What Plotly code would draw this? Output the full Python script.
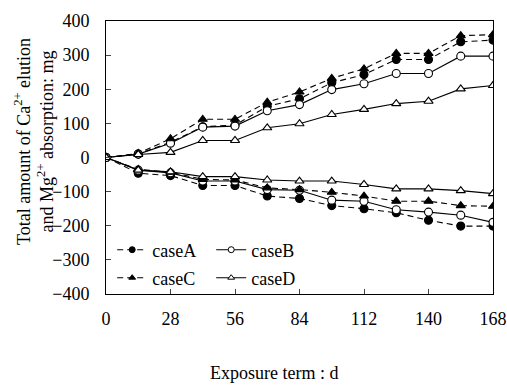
import plotly.graph_objects as go

days = [0, 14, 28, 42, 56, 70, 84, 98, 112, 126, 140, 154, 168]

# Ca2+ elution (positive)
ca_A = [0, 10, 45, 90, 95, 150, 172, 219, 243, 287, 287, 339, 344]
ca_B = [0, 10, 42, 89, 92, 137, 155, 199, 216, 246, 246, 297, 297]
ca_C = [0, 12, 55, 112, 112, 162, 192, 232, 260, 305, 305, 357, 360]
ca_D = [0, 9, 15, 50, 50, 87, 99, 126, 141, 158, 165, 201, 211]

# Mg2+ absorption (negative)
mg_A = [0, -46, -53, -82, -82, -113, -120, -141, -150, -162, -184, -201, -201]
mg_B = [0, -37, -45, -69, -69, -94, -96, -125, -128, -153, -160, -169, -190]
mg_C = [0, -35, -43, -64, -66, -89, -94, -102, -113, -128, -128, -141, -143]
mg_D = [0, -37, -42, -56, -56, -66, -69, -69, -79, -92, -92, -97, -106]

x_ticks = [0, 28, 56, 84, 112, 140, 168]
y_ticks = [-400, -300, -200, -100, 0, 100, 200, 300, 400]

styles = {
    "caseA": dict(dash=True, symbol="circle", open=False, legend="legend"),
    "caseB": dict(dash=False, symbol="circle", open=True, legend="legend"),
    "caseC": dict(dash=True, symbol="triangle-up", open=False, legend="legend2"),
    "caseD": dict(dash=False, symbol="triangle-up", open=True, legend="legend2"),
}
series = {
    "caseA": (ca_A, mg_A),
    "caseB": (ca_B, mg_B),
    "caseC": (ca_C, mg_C),
    "caseD": (ca_D, mg_D),
}

fig = go.Figure()
for name, (up, down) in series.items():
    st = styles[name]
    dash = "6px,4px" if st["dash"] else "solid"
    for vals in [up, down]:
        fig.add_trace(go.Scatter(
            x=days, y=vals, mode="lines+markers", name=name,
            legendgroup=name, showlegend=False,
            line=dict(color="black", width=1.1, dash=dash),
            marker=dict(symbol=st["symbol"], size=8,
                        color="white" if st["open"] else "black",
                        line=dict(color="black", width=1.1)),
        ))
    # legend entry (smaller symbol, as in the reference legend)
    fig.add_trace(go.Scatter(
        x=[None], y=[None], mode="lines+markers", name=name,
        legendgroup=name, showlegend=True, legend=st["legend"],
        line=dict(color="black", width=1.1, dash=dash),
        marker=dict(symbol=st["symbol"], size=6,
                    color="white" if st["open"] else "black",
                    line=dict(color="black", width=1)),
    ))

font = dict(family="Liberation Serif", size=18, color="black")

W, H = 507, 390
L, T = 106, 21
PW, PH = 387, 273
R, B = W - L - PW, H - T - PH

leg_common = dict(orientation="h", xanchor="left", yanchor="middle",
                  bgcolor="rgba(0,0,0,0)", font=font, entrywidth=54,
                  tracegroupgap=0, itemwidth=30)
fig.update_layout(
    width=W, height=H,
    margin=dict(l=L, r=R, t=T, b=B, autoexpand=False),
    paper_bgcolor="white", plot_bgcolor="white",
    font=font,
    showlegend=True,
    legend=dict(x=0.016, y=(294 - 250) / PH, **leg_common),
    legend2=dict(x=0.016, y=(294 - 278) / PH, **leg_common),
)
fig.update_xaxes(range=[0, 168], tickvals=x_ticks, ticks="inside", ticklen=5,
                 showline=True, linecolor="black", linewidth=1, mirror=True,
                 showgrid=False, zeroline=False, tickfont=font, ticklabelstandoff=8,
                 automargin=False)
fig.update_yaxes(range=[-400, 400], tickvals=y_ticks, ticks="inside", ticklen=5,
                 showline=True, linecolor="black", linewidth=1, mirror=True,
                 showgrid=False, zeroline=False, tickfont=font, ticklabelstandoff=12,
                 automargin=False)

fig.add_annotation(text="Exposure term : d", xref="paper", yref="paper",
                   x=(274 - L) / PW, y=-(373 - 294) / PH, showarrow=False,
                   xanchor="center", yanchor="middle", font=font)
fig.add_annotation(text="Total amount of Ca<sup>2+</sup> elution<br>and Mg<sup>2+</sup> absorption: mg",
                   xref="paper", yref="paper", x=-(L - 34) / PW, y=(294 - 142) / PH,
                   showarrow=False, textangle=-90, xanchor="center", yanchor="middle",
                   font=font)

fig.write_html("out.html", config={"displayModeBar": False},
               post_script="document.body.style.margin='0';document.body.style.overflow='hidden';")
